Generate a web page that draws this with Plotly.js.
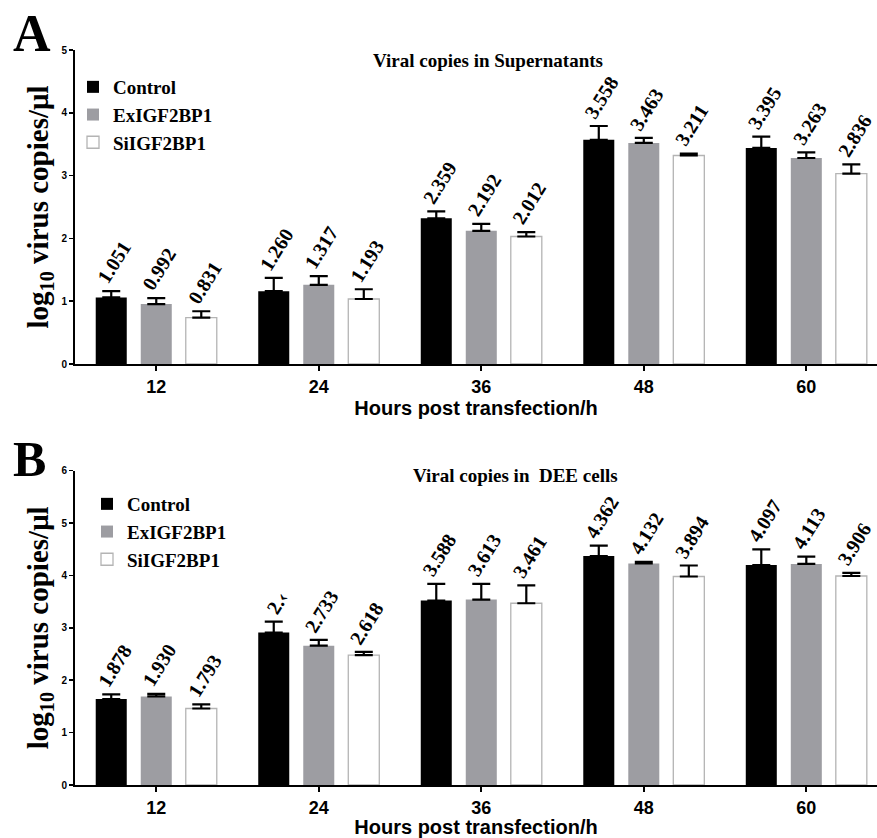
<!DOCTYPE html>
<html>
<head>
<meta charset="utf-8">
<script src="https://cdn.plot.ly/plotly-3.0.1.min.js"></script>
<style>html,body{margin:0;padding:0;background:#fff;}#chart{width:877px;height:838px;}</style>
</head>
<body>
<div id="chart"></div>
<script>
// ---- data ----
const hours = ['12', '24', '36', '48', '60'];
const seriesNames = ['Control', 'ExIGF2BP1', 'SiIGF2BP1'];

// Panel A: Viral copies in Supernatants
const aControl = [1.06, 1.16, 2.32, 3.57, 3.44];
const aControlErr = [0.10, 0.21, 0.11, 0.22, 0.18];
const aEx = [0.955, 1.26, 2.12, 3.52, 3.28];
const aExErr = [0.095, 0.14, 0.11, 0.08, 0.09];
const aSi = [0.74, 1.035, 2.03, 3.32, 3.03];
const aSiErr = [0.10, 0.155, 0.07, 0.03, 0.15];
const aControlLabels = ['1.051', '1.260', '2.359', '3.558', '3.395'];
const aExLabels = ['0.992', '1.317', '2.192', '3.463', '3.263'];
const aSiLabels = ['0.831', '1.193', '2.012', '3.211', '2.836'];

// Panel B: Viral copies in DEE cells
const bControl = [1.64, 2.91, 3.52, 4.37, 4.20];
const bControlErr = [0.09, 0.21, 0.32, 0.20, 0.30];
const bEx = [1.69, 2.66, 3.54, 4.23, 4.22];
const bExErr = [0.05, 0.11, 0.30, 0.03, 0.14];
const bSi = [1.46, 2.48, 3.47, 3.98, 3.99];
const bSiErr = [0.08, 0.06, 0.34, 0.21, 0.06];
const bControlLabels = ['1.878', '2.\u2039', '3.588', '4.362', '4.097'];
const bExLabels = ['1.930', '2.733', '3.613', '4.132', '4.113'];
const bSiLabels = ['1.793', '2.618', '3.461', '3.894', '3.906'];

// ---- styles ----
const SERIF = 'Liberation Serif, Times New Roman, serif';
const SANS = 'Liberation Sans, Arial, sans-serif';
const fills = ['#000000', '#9d9da2', '#ffffff'];
const lines = ['#000000', '#9d9da2', '#b4b4b4'];

function barTrace(name, idx, vals, errs, xa, ya, legendId) {
  return {
    type: 'bar', name: name, x: hours, y: vals,
    xaxis: xa, yaxis: ya, legend: legendId,
    marker: {color: fills[idx], line: {color: lines[idx], width: idx === 2 ? 1.3 : 0}},
    error_y: {type: 'data', symmetric: false, array: errs, arrayminus: errs.map(() => 0),
              color: '#000', thickness: 2.2, width: 9},
    hoverinfo: 'skip'
  };
}

const traces = [
  barTrace(seriesNames[0], 0, aControl, aControlErr, 'x', 'y', 'legend'),
  barTrace(seriesNames[1], 1, aEx, aExErr, 'x', 'y', 'legend'),
  barTrace(seriesNames[2], 2, aSi, aSiErr, 'x', 'y', 'legend'),
  barTrace(seriesNames[0], 0, bControl, bControlErr, 'x2', 'y2', 'legend2'),
  barTrace(seriesNames[1], 1, bEx, bExErr, 'x2', 'y2', 'legend2'),
  barTrace(seriesNames[2], 2, bSi, bSiErr, 'x2', 'y2', 'legend2')
];

const annotations = [];
function addLabels(vals, errs, labels, idx, xref, yref) {
  const shift = (idx - 1) * 45 + 3;
  for (let i = 0; i < hours.length; i++) {
    annotations.push({
      x: i, y: vals[i] + errs[i], xref: xref, yref: yref,
      text: '<b>' + labels[i] + '</b>', showarrow: false, textangle: -58,
      xanchor: 'center', yanchor: 'bottom', xshift: shift, yshift: 1,
      font: {family: SERIF, size: 20, color: '#000'}
    });
  }
}
addLabels(aControl, aControlErr, aControlLabels, 0, 'x', 'y');
addLabels(aEx, aExErr, aExLabels, 1, 'x', 'y');
addLabels(aSi, aSiErr, aSiLabels, 2, 'x', 'y');
addLabels(bControl, bControlErr, bControlLabels, 0, 'x2', 'y2');
addLabels(bEx, bExErr, bExLabels, 1, 'x2', 'y2');
addLabels(bSi, bSiErr, bSiLabels, 2, 'x2', 'y2');

// panel letters and panel B title
annotations.push({text: '<b>A</b>', xref: 'paper', yref: 'paper', x: -0.08, y: 0.997,
  xanchor: 'left', yanchor: 'top', showarrow: false, font: {family: SERIF, size: 52, color: '#000'}});
annotations.push({text: '<b>B</b>', xref: 'paper', yref: 'paper', x: -0.08, y: 0.488,
  xanchor: 'left', yanchor: 'top', showarrow: false, font: {family: SERIF, size: 50, color: '#000'}});
annotations.push({text: '<b>Viral copies in  DEE cells</b>', xref: 'paper', yref: 'paper',
  x: (515 - 75) / 802, y: 1 - 475 / 838, xanchor: 'center', yanchor: 'middle', showarrow: false,
  font: {family: SERIF, size: 19, color: '#000'}});

const yTitle = '<b>log<sub>10</sub> virus copies/μl</b>';
const xTitle = '<b>Hours post transfection/h</b>';

function xAxis(anchor) {
  return {
    anchor: anchor, type: 'category', range: [-0.5, 4.435],
    showline: true, linecolor: '#000', linewidth: 2, mirror: false,
    ticks: 'outside', ticklen: 5, tickwidth: 2, tickcolor: '#000',
    showgrid: false, zeroline: false,
    tickfont: {family: SANS, size: 18, color: '#000', weight: 'bold'},
    title: {text: xTitle, font: {family: SANS, size: 20, color: '#000'}, standoff: 0}
  };
}
function yAxis(anchor, domain, maxV) {
  return {
    anchor: anchor, domain: domain, range: [0, maxV], dtick: 1, tick0: 0,
    showline: true, linecolor: '#000', linewidth: 2,
    ticks: 'outside', ticklen: 4, tickwidth: 1.5, tickcolor: '#000',
    showgrid: false, zeroline: false,
    tickfont: {family: SANS, size: 10, color: '#000', weight: 'bold'},
    title: {text: yTitle, font: {family: SERIF, size: 29, color: '#000'}, standoff: 4}
  };
}

const legendFont = {family: SERIF, size: 19, color: '#000', weight: 'bold'};
const layout = {
  width: 877, height: 838, autosize: false,
  margin: {l: 75, r: 0, t: 0, b: 0},
  paper_bgcolor: '#fff', plot_bgcolor: 'rgba(0,0,0,0)',
  barmode: 'group', bargap: 0.169, bargroupgap: 0.311,
  title: {text: '<b>Viral copies in Supernatants</b>', xref: 'container', yref: 'container',
          x: 488 / 877, y: 1 - 60 / 838, xanchor: 'center', yanchor: 'middle',
          font: {family: SERIF, size: 19, color: '#000'}},
  xaxis: xAxis('y'),
  yaxis: yAxis('x', [1 - 364 / 838, 1 - 50 / 838], 5),
  xaxis2: xAxis('y2'),
  yaxis2: yAxis('x2', [1 - 785 / 838, 1 - 470.7 / 838], 6),
  legend: {x: -2 / 802, y: 1 - 68 / 838, xanchor: 'left', yanchor: 'top', bgcolor: 'rgba(0,0,0,0)',
           font: legendFont, tracegroupgap: 0, traceorder: 'normal'},
  legend2: {x: 12 / 802, y: 1 - 485 / 838, xanchor: 'left', yanchor: 'top', bgcolor: 'rgba(0,0,0,0)',
           font: legendFont, tracegroupgap: 0, traceorder: 'normal'},
  showlegend: true,
  annotations: annotations
};

Plotly.newPlot('chart', traces, layout, {displayModeBar: false, staticPlot: true});
</script>
</body>
</html>
